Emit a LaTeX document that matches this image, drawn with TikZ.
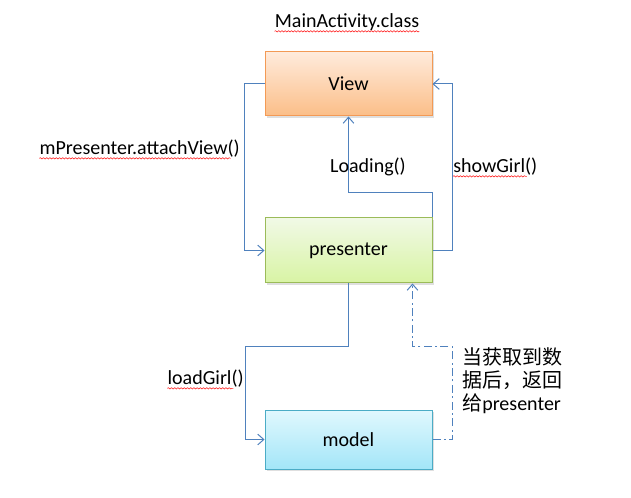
\documentclass[tikz,border=0pt]{standalone}
\usepackage{fontspec}
\setmainfont{Carlito}
\newfontfamily\cjk{Noto Sans CJK SC}
\usetikzlibrary{arrows.meta,positioning,shadows,decorations.pathmorphing}
\definecolor{LinkBlue}{HTML}{4F81BD}
\definecolor{ViewEdge}{HTML}{F39A55}
\definecolor{ViewTop}{HTML}{FFEBDC}
\definecolor{ViewBottom}{HTML}{FBBE88}
\definecolor{PresEdge}{HTML}{9BBB59}
\definecolor{PresTop}{HTML}{F1F9E6}
\definecolor{PresBottom}{HTML}{D8F4A4}
\definecolor{ModelEdge}{HTML}{4BACC6}
\definecolor{ModelTop}{HTML}{E1F8FE}
\definecolor{ModelBottom}{HTML}{A3E6F8}

\begin{document}
\begin{tikzpicture}[x=0.75pt,y=-0.75pt,
  font=\fontsize{15}{17.25}\selectfont,
  box/.style={rectangle,line width=0.75pt,minimum width=125.25pt,inner sep=0pt,
    drop shadow={shadow xshift=1.2pt,shadow yshift=-1.2pt,opacity=0.25}},
  link/.style={-{Straight Barb[length=4.5pt,width=8pt]},draw=LinkBlue,line width=0.75pt},
  ret/.style={link,dash pattern=on 6pt off 2.5pt on 1.5pt off 2.5pt},
  call/.style={inner sep=0pt},
  spell/.style={draw=red!85,line width=0.45pt,decorate,decoration={snake,amplitude=0.5pt,segment length=2.4pt}}
]
\useasboundingbox (0,0) rectangle (631,498);

\node[call,anchor=base] (title) at (347,28) {MainActivity.class};
\node[box,draw=ViewEdge,top color=ViewTop,bottom color=ViewBottom,minimum height=48pt] (view) at (348.5,84) {View};
\node[box,draw=PresEdge,top color=PresTop,bottom color=PresBottom,minimum height=48.75pt,below=75.75pt of view] (presenter) {presenter};
\node[box,draw=ModelEdge,top color=ModelTop,bottom color=ModelBottom,minimum height=44.25pt,below=94.5pt of presenter] (model) {model};

% calls between the layers
\draw[link] (view.west) -- ++(-20,0) |- (presenter.west);
\draw[link] (presenter.north east) -- ++(0,-25) -| (view.south);
\draw[link] (presenter.east) -- ++(20,0) |- (view.east);
\draw[link] (presenter.south) -- ++(0,63) -- ++(-103,0) |- (model.west);
\draw[ret] (model.east) -- ++(20,0) -- ++(0,-92.5) -| ([xshift=-15pt]presenter.south east);

\node[call,anchor=base east] (attach) at (240,155) {mPresenter.attachView()};
\node[call,anchor=base] (loading) at (368,173) {Loading()};
\node[call,anchor=base west] (show) at (453,173) {showGirl()};
\node[call,anchor=base east] (load) at (244,385) {loadGirl()};
\node[call,anchor=west,align=left] (back) at (462,381) {{\cjk 当获取到数}\\{\cjk 据后，返回}\\{\cjk 给}presenter};

% spell-check marks
\draw[spell] ([yshift=-2.5pt]title.base west) -- ([yshift=-2.5pt]title.base east);
\draw[spell] ([yshift=-2.5pt]attach.base west) -- ([xshift=-7pt,yshift=-2.5pt]attach.base east);
\draw[spell] ([yshift=-2.5pt]show.base west) -- ([xshift=-8pt,yshift=-2.5pt]show.base east);
\draw[spell] ([yshift=-2.5pt]load.base west) -- ([xshift=-8pt,yshift=-2.5pt]load.base east);
\end{tikzpicture}
\end{document}
